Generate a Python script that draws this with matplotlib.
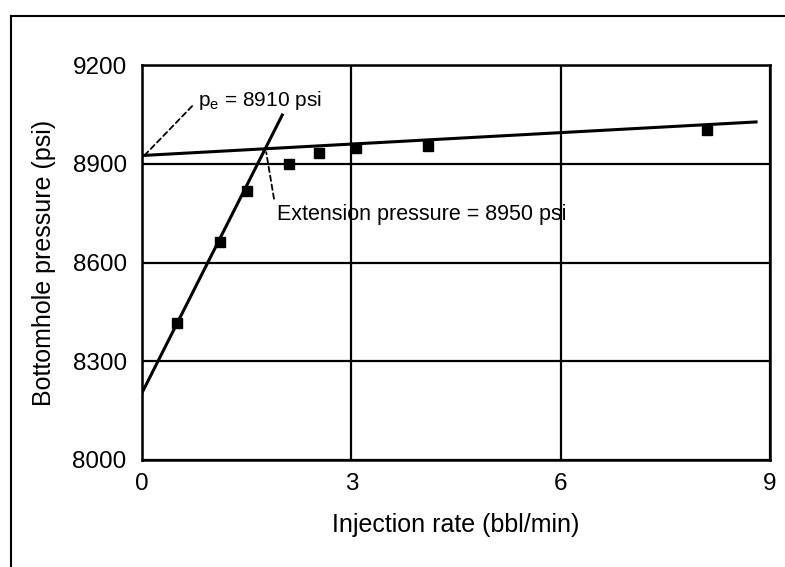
import matplotlib
matplotlib.use("Agg")
import matplotlib.pyplot as plt
from matplotlib.lines import Line2D

plt.rcParams['font.family'] = ['Liberation Sans', 'DejaVu Sans']

# Data
rate = [0.5, 1.12, 1.5, 2.1, 2.53, 3.07, 4.1, 8.1]
pressure = [8416, 8662, 8817, 8899, 8933, 8948, 8954, 9003]

# Fitted lines (endpoints)
steep_x = [0.0, 2.01]
steep_y = [8204, 9048]
ext_x = [0.0, 8.8]
ext_y = [8925, 9027]

xticks = [0, 3, 6, 9]
yticks = [8000, 8300, 8600, 8900, 9200]
ytick_labels = ["8000", "8300", "8600", "8900", "9200"]

W, H = 785, 567
fig = plt.figure(figsize=(W / 100, H / 100), dpi=100)
ax = fig.add_axes([142 / W, 1 - 460 / H, (770 - 142) / W, (460 - 65) / H])

ax.set_xlim(0, 9)
ax.set_ylim(8000, 9200)
ax.set_xticks(xticks)
ax.set_yticks(yticks)
ax.set_yticklabels(ytick_labels)
ax.tick_params(length=0, labelsize=17.5)
ax.tick_params(axis='y', pad=11)
ax.tick_params(axis='x', pad=9)
for s in ax.spines.values():
    s.set_linewidth(1.8)
    s.set_color('black')
ax.grid(True, color='black', linewidth=1.6)
ax.set_axisbelow(True)

ax.plot(ext_x, ext_y, color='black', linewidth=2.2, zorder=3)
ax.plot(steep_x, steep_y, color='black', linewidth=2.2, zorder=3)
ax.plot(rate, pressure, linestyle='none', marker='s', markersize=7.5,
        color='black', zorder=4)

# annotations
ax.annotate(r"p$_\mathregular{e}$ = 8910 psi", xy=(0.02, 8922), xytext=(0.8, 9093),
            fontsize=15, va='center', ha='left',
            arrowprops=dict(arrowstyle='-', linestyle=(0, (3, 2)),
                            color='black', lw=1.3, shrinkB=0, shrinkA=3,
                            relpos=(0, 0.5)))
ax.annotate("Extension pressure = 8950 psi", xy=(1.78, 8935), xytext=(1.93, 8745),
            fontsize=15.5, va='center', ha='left',
            arrowprops=dict(arrowstyle='-', linestyle=(0, (3, 2)),
                            color='black', lw=1.3, shrinkB=0, shrinkA=2,
                            relpos=(0, 0.5)))

ax.set_xlabel("Injection rate (bbl/min)", fontsize=18, labelpad=13)
ax.set_ylabel("Bottomhole pressure (psi)", fontsize=18, labelpad=12)

# outer frame (left and top edges)
fig.add_artist(Line2D([11 / W, 11 / W], [0, 1 - 16 / H], color='black',
                      linewidth=1.5, transform=fig.transFigure))
fig.add_artist(Line2D([11 / W, 1], [1 - 16 / H, 1 - 16 / H], color='black',
                      linewidth=1.5, transform=fig.transFigure))

fig.savefig("out.png", dpi=100)
